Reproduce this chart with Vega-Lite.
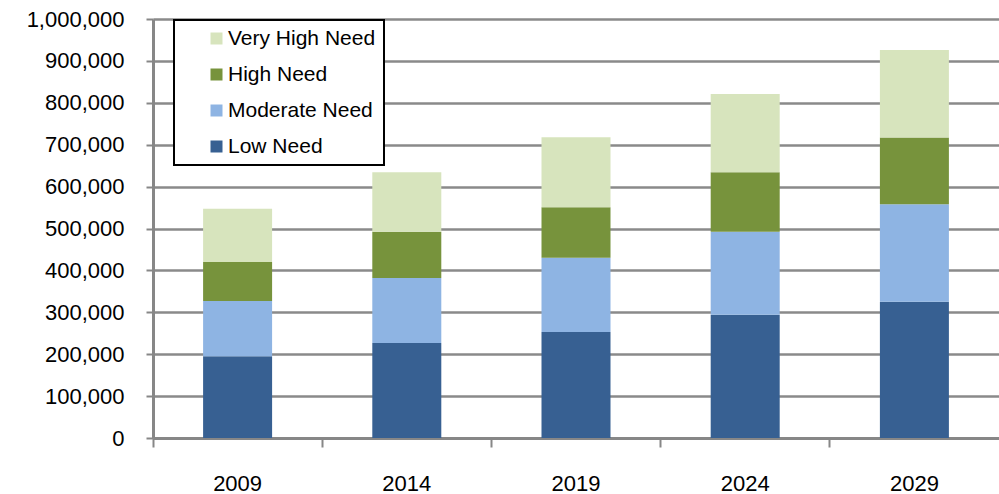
{
  "$schema": "https://vega.github.io/schema/vega-lite/v6.json",
  "width": 846,
  "height": 419,
  "autosize": "none",
  "padding": {"left": 153, "top": 19, "right": 0, "bottom": 56},
  "background": "white",
  "config": {
    "view": {"stroke": null},
    "font": "Liberation Sans"
  },
  "data": {
    "values": [
      {"year": "2009", "need": "Low Need", "rank": 1, "value": 195000},
      {"year": "2009", "need": "Moderate Need", "rank": 2, "value": 132000},
      {"year": "2009", "need": "High Need", "rank": 3, "value": 93000},
      {"year": "2009", "need": "Very High Need", "rank": 4, "value": 127000},
      {"year": "2014", "need": "Low Need", "rank": 1, "value": 227000},
      {"year": "2014", "need": "Moderate Need", "rank": 2, "value": 155000},
      {"year": "2014", "need": "High Need", "rank": 3, "value": 110000},
      {"year": "2014", "need": "Very High Need", "rank": 4, "value": 142000},
      {"year": "2019", "need": "Low Need", "rank": 1, "value": 253000},
      {"year": "2019", "need": "Moderate Need", "rank": 2, "value": 177000},
      {"year": "2019", "need": "High Need", "rank": 3, "value": 121000},
      {"year": "2019", "need": "Very High Need", "rank": 4, "value": 167000},
      {"year": "2024", "need": "Low Need", "rank": 1, "value": 294000},
      {"year": "2024", "need": "Moderate Need", "rank": 2, "value": 198000},
      {"year": "2024", "need": "High Need", "rank": 3, "value": 142000},
      {"year": "2024", "need": "Very High Need", "rank": 4, "value": 187000},
      {"year": "2029", "need": "Low Need", "rank": 1, "value": 325000},
      {"year": "2029", "need": "Moderate Need", "rank": 2, "value": 233000},
      {"year": "2029", "need": "High Need", "rank": 3, "value": 159000},
      {"year": "2029", "need": "Very High Need", "rank": 4, "value": 209000}
    ]
  },
  "mark": {"type": "bar", "width": 69},
  "encoding": {
    "x": {
      "field": "year",
      "type": "ordinal",
      "scale": {"paddingInner": 0, "paddingOuter": 0},
      "axis": {
        "title": null,
        "labelAngle": 0,
        "labelFontSize": 22,
        "labelColor": "#000000",
        "labelPadding": 26,
        "domainColor": "#878787",
        "domainWidth": 3,
        "tickColor": "#878787",
        "tickWidth": 2,
        "tickSize": 9,
        "bandPosition": 0,
        "grid": false
      }
    },
    "y": {
      "field": "value",
      "type": "quantitative",
      "stack": "zero",
      "scale": {"domain": [0, 1000000], "nice": false},
      "axis": {
        "title": null,
        "values": [0, 100000, 200000, 300000, 400000, 500000, 600000, 700000, 800000, 900000, 1000000],
        "format": ",d",
        "labelFontSize": 22,
        "labelColor": "#000000",
        "labelPadding": 22,
        "domainColor": "#878787",
        "domainWidth": 3,
        "tickColor": "#878787",
        "tickWidth": 2,
        "tickSize": 7,
        "grid": true,
        "gridColor": "#8a8a8a",
        "gridWidth": 2.5
      }
    },
    "color": {
      "field": "need",
      "type": "nominal",
      "scale": {
        "domain": ["Very High Need", "High Need", "Moderate Need", "Low Need"],
        "range": ["#D7E4BD", "#77933C", "#8EB4E3", "#376092"]
      },
      "legend": {
        "title": null,
        "orient": "none",
        "legendX": 21,
        "legendY": 1,
        "padding": 8,
        "symbolType": "square",
        "symbolSize": 144,
        "symbolOffset": 24,
        "symbolStrokeWidth": 0,
        "labelFontSize": 21,
        "labelColor": "#000000",
        "labelOffset": 1,
        "labelLimit": 400,
        "rowPadding": 14,
        "strokeColor": "#000000",
        "fillColor": "#ffffff",
        "encode": {"legend": {"update": {"strokeWidth": {"value": 2}}}}
      }
    },
    "order": {"field": "rank", "type": "quantitative", "sort": "ascending"}
  }
}
